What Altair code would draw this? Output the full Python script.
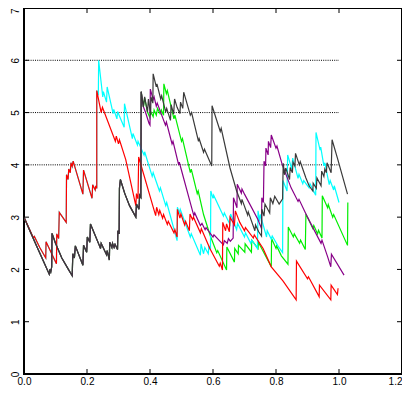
import altair as alt
import pandas as pd

# ---------------- data ----------------
TICK_X = [0.0, 0.2, 0.4, 0.6, 0.8, 1.0, 1.2]
TICK_Y = [0, 1, 2, 3, 4, 5, 6, 7]
LEVELS = [4, 5, 6]
LEVEL_X_END = 1.0

# black path shared by black / green / purple up to the branching point
TRUNK_BLACK = [
    (0.000, 3.00), (0.020, 2.72), (0.040, 2.45), (0.060, 2.18), (0.080, 1.91), (0.082, 2.00),
    (0.085, 1.95), (0.088, 2.05), (0.089, 2.69), (0.100, 2.50), (0.120, 2.22), (0.140, 2.01),
    (0.153, 1.88), (0.155, 2.30), (0.160, 2.22), (0.163, 2.45), (0.187, 2.08), (0.189, 2.46),
    (0.199, 2.33), (0.201, 2.62), (0.209, 2.52), (0.211, 2.87), (0.239, 2.46), (0.243, 2.40),
    (0.245, 2.50), (0.262, 2.28), (0.264, 2.36), (0.271, 2.18), (0.272, 2.52), (0.279, 2.42),
    (0.281, 2.50), (0.286, 2.42), (0.289, 2.48), (0.297, 2.38), (0.298, 2.74), (0.302, 2.68),
    (0.303, 3.55), (0.306, 3.72), (0.320, 3.45), (0.335, 3.22), (0.355, 3.00), (0.357, 3.25),
    (0.365, 3.15), (0.367, 3.42), (0.371, 3.38), (0.372, 5.40), (0.379, 5.11),
]
BLACK_TAIL = [
    (0.383, 5.30), (0.392, 5.01), (0.395, 5.26), (0.402, 4.95), (0.403, 5.30), (0.409, 5.18),
    (0.410, 5.74), (0.420, 5.49), (0.422, 5.55), (0.434, 5.26), (0.437, 5.32), (0.450, 5.01),
    (0.453, 5.08), (0.465, 4.85), (0.467, 5.15), (0.475, 4.97), (0.478, 5.26), (0.486, 5.10),
    (0.495, 4.98), (0.497, 5.20), (0.504, 5.08), (0.507, 5.39), (0.528, 4.95), (0.532, 5.00),
    (0.554, 4.45), (0.556, 4.50), (0.570, 4.24), (0.573, 4.30), (0.596, 3.98), (0.597, 5.13),
    (0.623, 4.64), (0.626, 4.70), (0.654, 3.94), (0.675, 3.50), (0.690, 3.26), (0.692, 3.34),
    (0.710, 3.04), (0.712, 3.10), (0.733, 2.74), (0.735, 2.85), (0.745, 2.72), (0.754, 2.64),
    (0.755, 3.15), (0.762, 3.02), (0.765, 3.25), (0.780, 3.08), (0.782, 3.37), (0.790, 3.26),
    (0.796, 3.40), (0.810, 3.25), (0.821, 3.35), (0.822, 3.75), (0.823, 4.03), (0.827, 3.81),
    (0.831, 3.94), (0.843, 3.72), (0.845, 3.95), (0.852, 3.85), (0.854, 4.05), (0.860, 3.98),
    (0.862, 4.22), (0.874, 4.00), (0.877, 4.06), (0.895, 3.75), (0.905, 3.60), (0.917, 3.50),
    (0.918, 3.65), (0.928, 3.55), (0.930, 3.75), (0.943, 3.60), (0.945, 3.88), (0.952, 3.78),
    (0.955, 3.92), (0.960, 3.85), (0.962, 4.04), (0.975, 3.85), (0.978, 4.48), (0.995, 4.13),
    (1.027, 3.44),
]
GREEN_TAIL = [
    (0.383, 5.28), (0.392, 5.01), (0.400, 4.90), (0.402, 5.02), (0.410, 4.92), (0.413, 5.05),
    (0.420, 4.95), (0.424, 5.08), (0.432, 4.98), (0.436, 5.05), (0.443, 4.95), (0.444, 5.55),
    (0.452, 5.36), (0.455, 5.42), (0.476, 4.88), (0.479, 4.95), (0.500, 4.45), (0.503, 4.50),
    (0.528, 3.85), (0.531, 3.92), (0.550, 3.45), (0.553, 3.50), (0.570, 3.05), (0.591, 2.65),
    (0.612, 2.32), (0.615, 2.36), (0.643, 1.99), (0.644, 2.43), (0.668, 2.14), (0.669, 2.40),
    (0.680, 2.30), (0.681, 2.46), (0.701, 2.33), (0.702, 2.49), (0.722, 2.33), (0.723, 2.56),
    (0.743, 2.40), (0.744, 2.52), (0.785, 2.05), (0.786, 2.59), (0.800, 2.40), (0.802, 2.45),
    (0.817, 2.26), (0.838, 2.10), (0.839, 2.81), (0.855, 2.62), (0.858, 2.68), (0.875, 2.50),
    (0.878, 2.56), (0.893, 2.38), (0.895, 3.06), (0.917, 2.78), (0.920, 2.84), (0.932, 2.68),
    (0.935, 2.75), (0.946, 2.60), (0.947, 3.41), (0.964, 3.18), (0.966, 3.24), (0.980, 3.00),
    (0.983, 3.05), (1.027, 2.46), (1.028, 3.28),
]
PURPLE_TAIL = [
    (0.386, 5.00), (0.397, 4.79), (0.400, 4.76), (0.401, 5.45), (0.410, 5.25), (0.413, 5.30),
    (0.420, 5.12), (0.423, 5.18), (0.449, 4.76), (0.452, 4.82), (0.470, 4.40), (0.473, 4.45),
    (0.491, 4.00), (0.493, 4.05), (0.539, 3.03), (0.542, 3.08), (0.560, 2.84), (0.565, 2.88),
    (0.575, 2.76), (0.578, 2.80), (0.600, 2.62), (0.603, 2.66), (0.633, 2.47), (0.636, 2.55),
    (0.645, 2.50), (0.649, 2.59), (0.655, 2.54), (0.664, 2.60), (0.665, 3.37), (0.672, 3.25),
    (0.676, 3.18), (0.677, 3.63), (0.690, 3.46), (0.692, 3.54), (0.700, 3.44), (0.743, 2.95),
    (0.754, 2.78), (0.755, 3.37), (0.760, 3.28), (0.762, 4.07), (0.767, 3.98), (0.768, 4.32),
    (0.775, 4.19), (0.776, 4.45), (0.783, 4.33), (0.785, 4.57), (0.800, 4.32), (0.803, 4.36),
    (0.820, 4.00), (0.848, 3.56), (0.870, 3.30), (0.873, 3.34), (0.900, 3.00), (0.943, 2.50),
    (0.946, 2.56), (0.964, 2.24), (0.974, 2.05), (0.976, 2.29), (1.016, 1.89),
]
# red path shared by red / cyan up to the jump at x ~ 0.231
TRUNK_RED = [
    (0.000, 3.00), (0.015, 2.80), (0.030, 2.60), (0.033, 2.63), (0.050, 2.42), (0.069, 2.22),
    (0.070, 2.53), (0.085, 2.34), (0.103, 2.11), (0.104, 2.68), (0.110, 2.59), (0.112, 3.09),
    (0.134, 2.90), (0.135, 3.81), (0.140, 3.72), (0.142, 3.92), (0.147, 3.85), (0.149, 4.04),
    (0.153, 3.97), (0.156, 4.07), (0.187, 3.44), (0.189, 3.90), (0.216, 3.36), (0.218, 3.62),
    (0.226, 3.52), (0.228, 3.60), (0.231, 3.55), (0.231, 5.42),
]
RED_TAIL = [
    (0.245, 5.00), (0.249, 5.10), (0.290, 4.45), (0.293, 4.55), (0.300, 4.40), (0.303, 4.48),
    (0.323, 4.10), (0.355, 3.22), (0.357, 3.45), (0.362, 3.35), (0.364, 4.15), (0.418, 3.03),
    (0.421, 3.19), (0.428, 3.05), (0.431, 3.13), (0.440, 2.98), (0.443, 3.05), (0.455, 2.86),
    (0.458, 2.92), (0.476, 2.70), (0.479, 2.76), (0.486, 2.62), (0.487, 3.15), (0.495, 2.98),
    (0.498, 3.06), (0.510, 2.85), (0.513, 2.92), (0.525, 2.74), (0.527, 3.06), (0.535, 2.95),
    (0.538, 3.00), (0.560, 2.70), (0.563, 2.78), (0.590, 2.40), (0.620, 2.06), (0.623, 2.12),
    (0.630, 1.99), (0.631, 2.90), (0.640, 2.74), (0.643, 2.87), (0.652, 2.72), (0.654, 3.00),
    (0.668, 2.85), (0.671, 3.12), (0.685, 2.90), (0.700, 2.74), (0.703, 2.80), (0.728, 2.60),
    (0.731, 2.66), (0.759, 2.40), (0.785, 2.05), (0.822, 1.78), (0.864, 1.42), (0.865, 2.16),
    (0.900, 1.82), (0.903, 1.86), (0.937, 1.48), (0.938, 1.70), (0.974, 1.42), (0.975, 1.70),
    (0.995, 1.52), (0.997, 1.64),
]
CYAN_TAIL = [
    (0.236, 5.33), (0.237, 6.00), (0.250, 5.30), (0.252, 5.40), (0.262, 5.20), (0.264, 5.49),
    (0.283, 4.98), (0.285, 5.06), (0.295, 4.88), (0.297, 5.02), (0.318, 4.72), (0.319, 5.17),
    (0.344, 4.50), (0.346, 4.60), (0.360, 4.38), (0.362, 4.45), (0.381, 4.19), (0.383, 4.25),
    (0.407, 3.78), (0.410, 3.85), (0.430, 3.50), (0.433, 3.56), (0.450, 3.22), (0.453, 3.28),
    (0.486, 2.55), (0.487, 3.19), (0.493, 3.08), (0.496, 3.15), (0.528, 2.62), (0.531, 2.68),
    (0.560, 2.27), (0.562, 2.49), (0.570, 2.30), (0.574, 2.42), (0.585, 2.30), (0.587, 2.45),
    (0.592, 2.38), (0.593, 3.50), (0.600, 3.36), (0.602, 3.42), (0.633, 3.02), (0.636, 3.08),
    (0.654, 2.86), (0.656, 3.06), (0.675, 2.76), (0.678, 2.88), (0.700, 2.62), (0.703, 2.70),
    (0.720, 2.50), (0.723, 2.56), (0.741, 2.40), (0.743, 3.12), (0.748, 2.92), (0.750, 3.05),
    (0.770, 2.62), (0.772, 2.74), (0.785, 2.58), (0.788, 2.64), (0.806, 2.45), (0.821, 2.32),
    (0.822, 3.70), (0.835, 3.50), (0.837, 4.19), (0.850, 3.92), (0.853, 4.13), (0.870, 3.74),
    (0.873, 3.82), (0.885, 3.64), (0.888, 3.70), (0.905, 3.56), (0.908, 3.64), (0.926, 3.42),
    (0.927, 4.62), (0.940, 4.28), (0.942, 4.34), (0.952, 3.98), (0.955, 4.04), (0.969, 3.62),
    (0.972, 3.70), (0.983, 3.52), (0.985, 3.60), (1.000, 3.28),
]

SERIES = [  # drawing order: first drawn lies underneath
    ("green", TRUNK_BLACK + GREEN_TAIL, "#00ee00"),
    ("cyan", TRUNK_RED + CYAN_TAIL, "#00ffff"),
    ("purple", TRUNK_BLACK + PURPLE_TAIL, "#880088"),
    ("red", TRUNK_RED + RED_TAIL, "#ff0000"),
    ("black", TRUNK_BLACK + BLACK_TAIL, "#3a3a3a"),
]

# ---------------- chart ----------------
W, H = 378, 366
TL = 5  # inner tick length (px)
FONT = "Liberation Sans"

xscale = alt.Scale(domain=[0, 1.2], nice=False, zero=False)
yscale = alt.Scale(domain=[0, 7], nice=False, zero=False)

xaxis = alt.Axis(values=TICK_X, format=".1f", ticks=False, domain=False, grid=False,
                 labelFont=FONT, labelFontSize=10, labelColor="black", labelPadding=2,
                 labelBaseline="top",
                 labelAlign=alt.ExprRef("datum.value >= 1.19 ? 'right' : 'center'"),
                 labelFlush=False, labelOverlap=False, title=None)
yaxis = alt.Axis(values=TICK_Y, format="d", ticks=False, domain=False, grid=False,
                 labelFont=FONT, labelFontSize=10, labelColor="black", labelPadding=4,
                 labelAngle=270, labelBaseline="bottom",
                 labelAlign=alt.ExprRef("datum.value >= 7 ? 'right' : 'center'"),
                 labelFlush=False, labelOverlap=False, title=None)

X = lambda f: alt.X(f, type="quantitative", scale=xscale, axis=xaxis)
Y = lambda f: alt.Y(f, type="quantitative", scale=yscale, axis=yaxis)

layers = []

levels_df = pd.DataFrame({"y": LEVELS, "x0": [0.0] * len(LEVELS), "x1": [LEVEL_X_END] * len(LEVELS)})
layers.append(
    alt.Chart(levels_df).mark_rule(color="black", strokeWidth=1, strokeDash=[1, 1.2]).encode(
        x=X("x0"), x2="x1", y=Y("y"))
)

for name, pts, color in SERIES:
    df = pd.DataFrame({"i": range(len(pts)), "x": [p[0] for p in pts], "y": [p[1] for p in pts]})
    layers.append(
        alt.Chart(df).mark_line(color=color, strokeWidth=1.2, clip=True).encode(
            x=X("x"), y=Y("y"), order=alt.Order("i:Q"))
    )

tx = pd.DataFrame({"x": TICK_X})
ty = pd.DataFrame({"y": TICK_Y})
layers.append(alt.Chart(tx).mark_rule(color="black", strokeWidth=1).encode(
    x=X("x"), y=alt.value(H), y2=alt.value(H - TL)))
layers.append(alt.Chart(tx).mark_rule(color="black", strokeWidth=1).encode(
    x=X("x"), y=alt.value(0), y2=alt.value(TL)))
layers.append(alt.Chart(ty).mark_rule(color="black", strokeWidth=1).encode(
    y=Y("y"), x=alt.value(0), x2=alt.value(TL)))
layers.append(alt.Chart(ty).mark_rule(color="black", strokeWidth=1).encode(
    y=Y("y"), x=alt.value(W), x2=alt.value(W - TL)))

chart = alt.layer(*layers).properties(
    width=W, height=H,
    autosize=alt.AutoSizeParams(type="none"),
    padding={"left": 16, "top": 0, "right": 0, "bottom": 14},
    background="white",
).configure_view(stroke="black", strokeWidth=2)

chart.save("out.html", embed_options={"renderer": "svg", "actions": False})
